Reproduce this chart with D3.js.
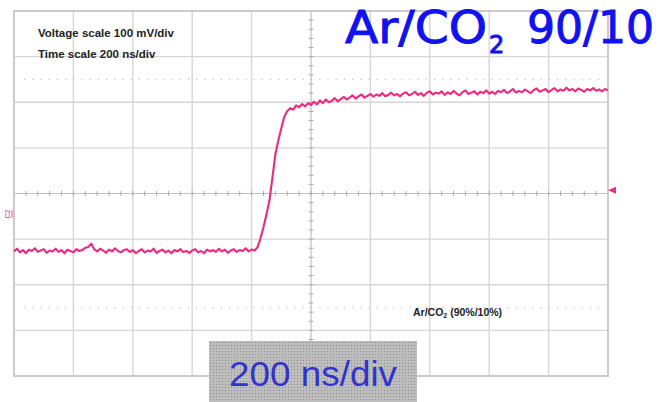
<!DOCTYPE html>
<html>
<head>
<meta charset="utf-8">
<script src="https://cdn.jsdelivr.net/npm/d3@7"></script>
<style>
  body { margin: 0; background: #fff; }
  svg { display: block; }
  .grid line { stroke: #d6d6d6; stroke-width: 1.4px; }
  .frame { fill: none; stroke: #cbcbcb; stroke-width: 2px; }
  .center line { stroke: #c0c0c0; stroke-width: 1.2px; }
  .center .tick { stroke: #aaaaaa; stroke-width: 1px; }
  .cursor { stroke: #c4c4c4; stroke-width: 1.2px; stroke-dasharray: 1.2,7; }
  .trace { fill: none; stroke: #ee2a80; stroke-width: 2.1px; stroke-linejoin: round; }
  .note { font-family: "Liberation Sans", Arial, sans-serif; font-weight: bold; fill: #222; }
</style>
</head>
<body>
<svg id="chart" width="660" height="402"></svg>
<script>
// scope settings: 10 x 200 ns, 8 x 100 mV
var timeDomain = [0, 2000];
var voltDomain = [-400, 400];
var timePerDiv = 200;
var voltPerDiv = 100;
var cursorLevels = [250, -250];   // dotted cursor lines, mV
var triggerLevel = 7;             // mV, marker on right edge

// trace samples, one every 10 ns from 0 to 2000 ns (mV)
var traceStep = 10;
var traceMv = [
  -127,-121,-129,-124,-131,-123,-126,-120,-128,-125,
  -122,-130,-125,-127,-121,-128,-124,-131,-123,-126,
  -129,-122,-126,-124,-119,-117,-110,-122,-127,-121,
  -125,-130,-123,-127,-120,-126,-129,-124,-122,-128,
  -124,-131,-126,-122,-129,-125,-127,-121,-130,-126,
  -123,-129,-125,-131,-124,-127,-122,-128,-126,-130,
  -125,-122,-129,-126,-131,-123,-127,-124,-128,-121,
  -127,-123,-130,-125,-122,-128,-124,-126,-120,-127,
  -123,-125,-118,-98,-74,-46,-16,34,86,116,
  143,168,181,187,184,193,189,196,191,198,
  194,201,195,204,198,206,200,203,209,202,
  207,212,206,210,215,208,213,217,210,214,
  218,212,217,214,220,213,216,221,215,218,
  213,219,222,215,218,223,216,220,214,221,
  224,217,221,219,224,216,222,218,225,219,
  215,222,226,218,221,224,217,223,220,226,
  219,223,218,225,222,227,220,224,229,221,
  225,222,228,224,220,227,230,223,226,229,
  222,227,231,224,228,225,232,226,229,224,
  230,227,223,229,226,231,225,228,224,229,
  226
];

var svg = d3.select("#chart");

var x = d3.scaleLinear().domain(timeDomain).range([14, 608]);
var y = d3.scaleLinear().domain(voltDomain).range([376, 11]);

// texture for the "200 ns/div" box
var defs = svg.append("defs");
var pat = defs.append("pattern")
    .attr("id", "dots")
    .attr("width", 3).attr("height", 3)
    .attr("patternUnits", "userSpaceOnUse");
pat.append("rect").attr("width", 3).attr("height", 3).attr("fill", "#bdbdbd");
pat.append("rect").attr("width", 1).attr("height", 1).attr("fill", "#8e8e8e");

// grid
var xDivs = d3.range(timeDomain[0] + timePerDiv, timeDomain[1], timePerDiv);
var yDivs = d3.range(voltDomain[0] + voltPerDiv, voltDomain[1], voltPerDiv);

var grid = svg.append("g").attr("class", "grid");
grid.selectAll(".vx").data(xDivs.filter(function(d) { return d !== 1000; }))
  .enter().append("line")
    .attr("x1", function(d) { return x(d); }).attr("x2", function(d) { return x(d); })
    .attr("y1", y(voltDomain[1])).attr("y2", y(voltDomain[0]));
grid.selectAll(".hy").data(yDivs.filter(function(d) { return d !== 0; }))
  .enter().append("line")
    .attr("x1", x(timeDomain[0])).attr("x2", x(timeDomain[1]))
    .attr("y1", function(d) { return y(d); }).attr("y2", function(d) { return y(d); });

// dotted cursors
svg.selectAll(".cursor").data(cursorLevels)
  .enter().append("line")
    .attr("class", "cursor")
    .attr("x1", x(timeDomain[0]) + 10).attr("x2", x(timeDomain[1]) - 4)
    .attr("y1", function(d) { return y(d); }).attr("y2", function(d) { return y(d); });

// centre axes with minor ticks
var center = svg.append("g").attr("class", "center");
center.append("line")
    .attr("x1", x(timeDomain[0])).attr("x2", x(timeDomain[1]))
    .attr("y1", y(0)).attr("y2", y(0));
center.append("line")
    .attr("x1", x(1000)).attr("x2", x(1000))
    .attr("y1", y(voltDomain[1])).attr("y2", y(voltDomain[0]));

var xMinor = d3.range(timeDomain[0], timeDomain[1] + 1, timePerDiv / 5);
var yMinor = d3.range(voltDomain[0], voltDomain[1] + 1, voltPerDiv / 5);
center.selectAll(".tx").data(xMinor)
  .enter().append("line")
    .attr("class", "tick")
    .attr("x1", function(d) { return x(d); }).attr("x2", function(d) { return x(d); })
    .attr("y1", y(0) - 2.5).attr("y2", y(0) + 2.5);
center.selectAll(".ty").data(yMinor)
  .enter().append("line")
    .attr("class", "tick")
    .attr("x1", x(1000) - 2.5).attr("x2", x(1000) + 2.5)
    .attr("y1", function(d) { return y(d); }).attr("y2", function(d) { return y(d); });

// frame
svg.append("rect")
    .attr("class", "frame")
    .attr("x", x(timeDomain[0])).attr("y", y(voltDomain[1]))
    .attr("width", x(timeDomain[1]) - x(timeDomain[0]))
    .attr("height", y(voltDomain[0]) - y(voltDomain[1]));

// trace
var line = d3.line()
    .x(function(d, i) { return x(i * traceStep); })
    .y(function(d) { return y(d); });
svg.append("path")
    .datum(traceMv)
    .attr("class", "trace")
    .attr("d", line);

// trigger marker on right edge
var ty = y(triggerLevel), tx = x(timeDomain[1]);
svg.append("path")
    .attr("d", "M" + tx + "," + ty + "L" + (tx + 8) + "," + (ty - 3.5) + "L" + (tx + 8) + "," + (ty + 3.5) + "Z")
    .attr("fill", "#ee2a80");

// channel label
var c2 = svg.append("g").attr("transform", "translate(10," + y(-45) + ") rotate(-90)");
c2.append("text")
    .attr("text-anchor", "middle")
    .attr("font-family", "Liberation Sans, Arial, sans-serif")
    .attr("font-size", 7)
    .attr("fill", "#ee2a80")
    .text("C2");
c2.append("line")
    .attr("x1", -4).attr("x2", 4).attr("y1", 2).attr("y2", 2)
    .attr("stroke", "#ee2a80").attr("stroke-width", 0.8);

// scale notes
svg.append("text").attr("class", "note")
    .attr("x", 38).attr("y", 37).attr("font-size", 11.5)
    .text("Voltage scale 100 mV/div");
svg.append("text").attr("class", "note")
    .attr("x", 38).attr("y", 58).attr("font-size", 11.5)
    .text("Time scale 200 ns/div");

var gas = svg.append("text").attr("class", "note")
    .attr("x", 413).attr("y", 316).attr("font-size", 10.5);
gas.append("tspan").text("Ar/CO");
gas.append("tspan").attr("font-size", 7).attr("dy", 2).text("2");
gas.append("tspan").attr("dy", -2).text(" (90%/10%)");

// title
var title = svg.append("g")
    .attr("font-family", "DejaVu Sans, sans-serif")
    .attr("fill", "#1212ee")
    .attr("stroke", "#1212ee")
    .attr("stroke-width", 1);
title.append("text")
    .attr("x", 345).attr("y", 43).attr("font-size", 45)
    .attr("textLength", 142).attr("lengthAdjust", "spacingAndGlyphs")
    .text("Ar/CO");
title.append("text")
    .attr("x", 489).attr("y", 53).attr("font-size", 24)
    .text("2");
title.append("text")
    .attr("x", 527).attr("y", 43).attr("font-size", 45)
    .attr("textLength", 127).attr("lengthAdjust", "spacingAndGlyphs")
    .text("90/10");

// time-base box
svg.append("rect")
    .attr("x", 209).attr("y", 341)
    .attr("width", 208).attr("height", 61)
    .attr("fill", "url(#dots)");
svg.append("text")
    .attr("x", 229).attr("y", 386)
    .attr("font-family", "Liberation Sans, Arial, sans-serif")
    .attr("font-size", 34.5)
    .attr("fill", "#3232cc")
    .attr("textLength", 168).attr("lengthAdjust", "spacingAndGlyphs")
    .text("200 ns/div");
</script>
</body>
</html>
